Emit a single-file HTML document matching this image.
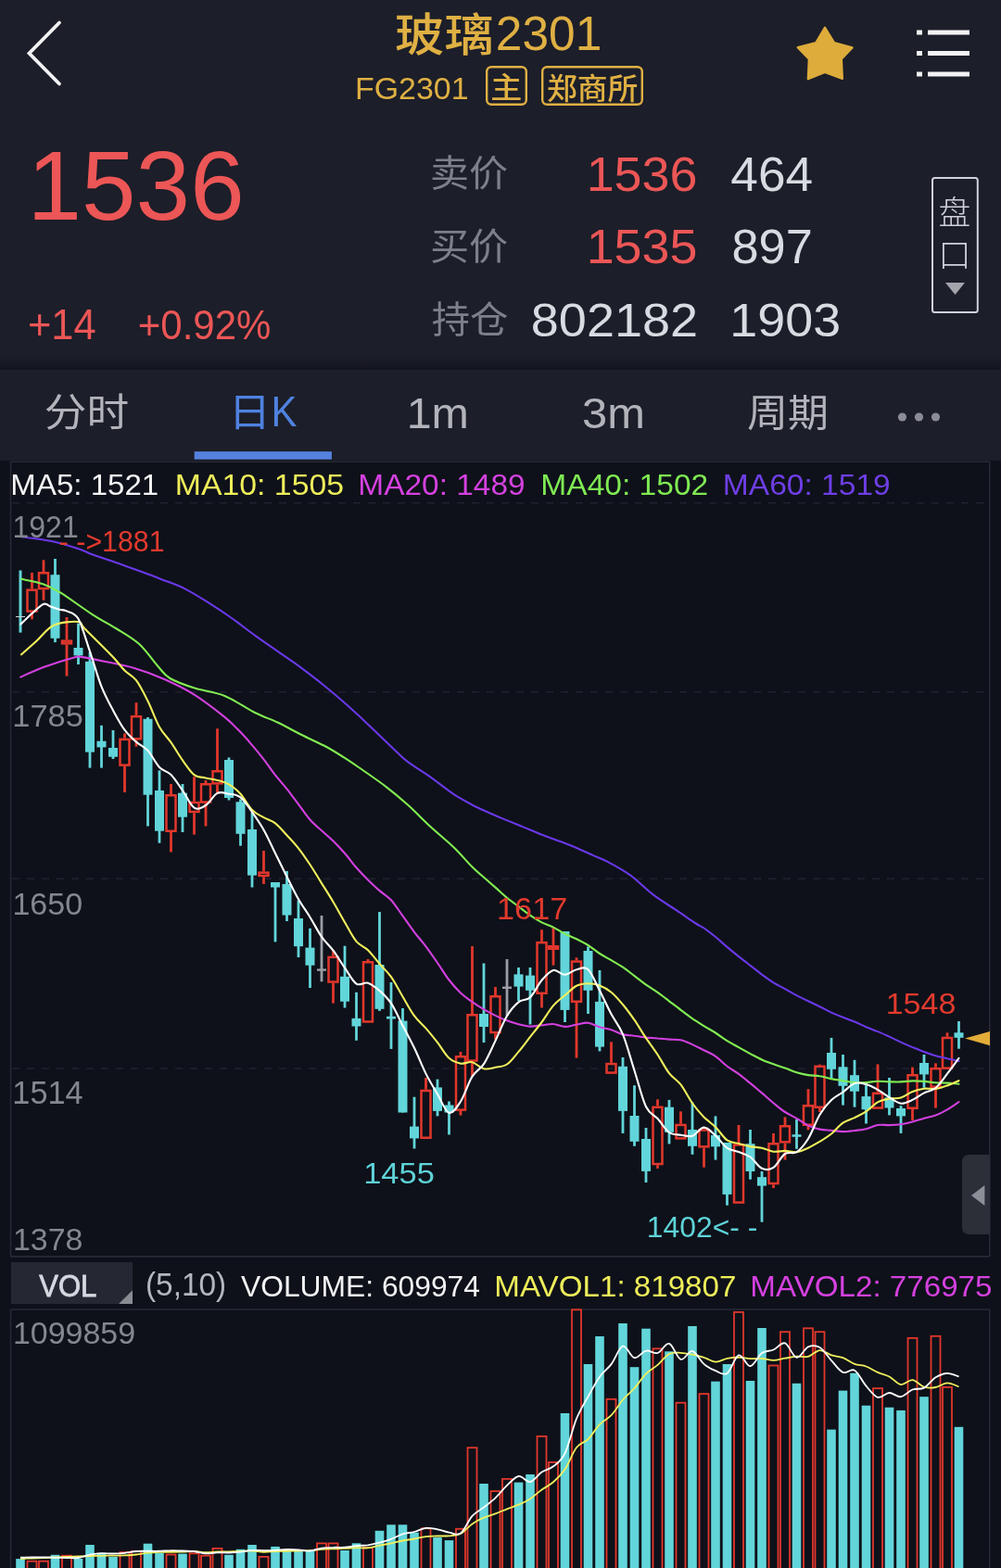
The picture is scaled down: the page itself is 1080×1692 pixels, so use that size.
<!DOCTYPE html>
<html><head><meta charset="utf-8"><title>玻璃2301</title>
<style>html,body{margin:0;padding:0;background:#0e1119;}body{width:1080px;height:1692px;overflow:hidden;}svg{display:block;}</style>
</head><body>
<svg width="1080" height="1692" viewBox="0 0 1080 1692"><rect x="0" y="0" width="1080" height="497" fill="#1c1e29"/>
<defs><linearGradient id="sh" x1="0" y1="0" x2="0" y2="1"><stop offset="0" stop-color="#0c0d14" stop-opacity="0"/><stop offset="1" stop-color="#0c0d14" stop-opacity="0.55"/></linearGradient></defs>
<rect x="0" y="384" width="1080" height="15" fill="url(#sh)"/>
<rect x="0" y="497" width="1080" height="1195" fill="#0e1119"/>
<path d="M11.5,498.3 H1067.8 M11.5,498 V1356 M1067.8,498 V1356 M11.5,1355.9 H1067.8 M11.5,1413 H1067.8 M11.5,1413 V1692 M1067.8,1413 V1692" stroke="#272a35" stroke-width="1.6" fill="none"/>
<line x1="13" y1="542.8" x2="1064" y2="542.8" stroke="#1f2230" stroke-width="1.5" stroke-dasharray="8,8"/>
<line x1="13" y1="746.7" x2="1064" y2="746.7" stroke="#1f2230" stroke-width="1.5" stroke-dasharray="8,8"/>
<line x1="13" y1="948.3" x2="1064" y2="948.3" stroke="#1f2230" stroke-width="1.5" stroke-dasharray="8,8"/>
<line x1="13" y1="1153" x2="1064" y2="1153" stroke="#1f2230" stroke-width="1.5" stroke-dasharray="8,8"/>
<rect x="20.5" y="615.5" width="3" height="67.10000000000002" fill="#62d5da"/>
<rect x="17.0" y="665.0" width="10" height="1" fill="#cfd6da"/>
<rect x="33.1" y="618" width="2.8" height="17.399999999999977" fill="#e2372c"/>
<rect x="33.1" y="660.8" width="2.8" height="7.5" fill="#e2372c"/>
<rect x="29.5" y="636.65" width="10" height="22.899999999999977" fill="none" stroke="#e2372c" stroke-width="2.5"/>
<rect x="45.6" y="604.3" width="2.8" height="12.700000000000045" fill="#e2372c"/>
<rect x="45.6" y="636.3" width="2.8" height="11.5" fill="#e2372c"/>
<rect x="42.0" y="618.25" width="10" height="16.799999999999955" fill="none" stroke="#e2372c" stroke-width="2.5"/>
<rect x="58.1" y="603" width="2.8" height="90.10000000000002" fill="#62d5da"/>
<rect x="54.5" y="620.2" width="10" height="68.59999999999991" fill="#62d5da"/>
<rect x="70.6" y="666" width="2.8" height="24.399999999999977" fill="#e2372c"/>
<rect x="70.6" y="695.6" width="2.8" height="34.0" fill="#e2372c"/>
<rect x="67.0" y="691.65" width="10" height="2.7000000000000455" fill="none" stroke="#e2372c" stroke-width="2.5"/>
<rect x="83.1" y="672.7" width="2.8" height="44.299999999999955" fill="#62d5da"/>
<rect x="79.5" y="699" width="10" height="8.399999999999977" fill="#62d5da"/>
<rect x="95.6" y="703.7" width="2.8" height="124.89999999999998" fill="#62d5da"/>
<rect x="92.0" y="713.8" width="10" height="97.80000000000007" fill="#62d5da"/>
<rect x="108.1" y="782.8" width="2.8" height="45.80000000000007" fill="#62d5da"/>
<rect x="104.5" y="799.7" width="10" height="6.699999999999932" fill="#62d5da"/>
<rect x="120.6" y="788" width="2.8" height="31" fill="#62d5da"/>
<rect x="117.0" y="807" width="10" height="9.700000000000045" fill="#62d5da"/>
<rect x="133.1" y="791.4" width="2.8" height="5.2000000000000455" fill="#e2372c"/>
<rect x="133.1" y="826.9" width="2.8" height="28.100000000000023" fill="#e2372c"/>
<rect x="129.5" y="797.85" width="10" height="27.799999999999955" fill="none" stroke="#e2372c" stroke-width="2.5"/>
<rect x="145.6" y="758.2" width="2.8" height="13.699999999999932" fill="#e2372c"/>
<rect x="145.6" y="798.5" width="2.8" height="7.2000000000000455" fill="#e2372c"/>
<rect x="142.0" y="773.15" width="10" height="24.100000000000023" fill="none" stroke="#e2372c" stroke-width="2.5"/>
<rect x="158.1" y="774" width="2.8" height="117.5" fill="#62d5da"/>
<rect x="154.5" y="775.8" width="10" height="81.90000000000009" fill="#62d5da"/>
<rect x="170.6" y="831.4" width="2.8" height="78.30000000000007" fill="#62d5da"/>
<rect x="167.0" y="853" width="10" height="43.700000000000045" fill="#62d5da"/>
<rect x="183.1" y="846" width="2.8" height="11" fill="#e2372c"/>
<rect x="183.1" y="898" width="2.8" height="21.5" fill="#e2372c"/>
<rect x="179.5" y="858.25" width="10" height="38.5" fill="none" stroke="#e2372c" stroke-width="2.5"/>
<rect x="195.6" y="846" width="2.8" height="52" fill="#62d5da"/>
<rect x="192.0" y="855.7" width="10" height="26.0" fill="#62d5da"/>
<rect x="208.1" y="838.2" width="2.8" height="26.59999999999991" fill="#e2372c"/>
<rect x="208.1" y="877.2" width="2.8" height="23.399999999999977" fill="#e2372c"/>
<rect x="204.5" y="866.05" width="10" height="9.900000000000091" fill="none" stroke="#e2372c" stroke-width="2.5"/>
<rect x="220.6" y="842" width="2.8" height="3" fill="#e2372c"/>
<rect x="220.6" y="866.8" width="2.8" height="24.700000000000045" fill="#e2372c"/>
<rect x="217.0" y="846.25" width="10" height="19.299999999999955" fill="none" stroke="#e2372c" stroke-width="2.5"/>
<rect x="233.1" y="786.2" width="2.8" height="44.799999999999955" fill="#e2372c"/>
<rect x="233.1" y="846.6" width="2.8" height="9.799999999999955" fill="#e2372c"/>
<rect x="229.5" y="832.25" width="10" height="13.100000000000023" fill="none" stroke="#e2372c" stroke-width="2.5"/>
<rect x="245.6" y="817.4" width="2.8" height="46.10000000000002" fill="#62d5da"/>
<rect x="242.0" y="820" width="10" height="41" fill="#62d5da"/>
<rect x="258.1" y="862.4" width="2.8" height="50.30000000000007" fill="#62d5da"/>
<rect x="254.5" y="865.3" width="10" height="34.5" fill="#62d5da"/>
<rect x="270.6" y="877" width="2.8" height="80.5" fill="#62d5da"/>
<rect x="267.0" y="895" width="10" height="49.60000000000002" fill="#62d5da"/>
<rect x="283.1" y="918" width="2.8" height="22.399999999999977" fill="#e2372c"/>
<rect x="283.1" y="946.2" width="2.8" height="7.7999999999999545" fill="#e2372c"/>
<rect x="279.5" y="941.65" width="10" height="3.300000000000068" fill="none" stroke="#e2372c" stroke-width="2.5"/>
<rect x="295.6" y="952" width="2.8" height="64.39999999999998" fill="#62d5da"/>
<rect x="292.0" y="952" width="10" height="5.5" fill="#62d5da"/>
<rect x="308.1" y="940" width="2.8" height="54" fill="#62d5da"/>
<rect x="304.5" y="954" width="10" height="33.5" fill="#62d5da"/>
<rect x="320.6" y="971.5" width="2.8" height="61.5" fill="#62d5da"/>
<rect x="317.0" y="991" width="10" height="30.200000000000045" fill="#62d5da"/>
<rect x="333.1" y="1001.8" width="2.8" height="64.20000000000005" fill="#62d5da"/>
<rect x="329.5" y="1022.6" width="10" height="19.100000000000023" fill="#62d5da"/>
<rect x="345.6" y="988" width="2.8" height="71.29999999999995" fill="#9c9da4"/>
<rect x="342.0" y="1045.3999999999999" width="10" height="2.4" fill="#9c9da4"/>
<rect x="358.1" y="1025" width="2.8" height="6.599999999999909" fill="#e2372c"/>
<rect x="358.1" y="1060.8" width="2.8" height="21.799999999999955" fill="#e2372c"/>
<rect x="354.5" y="1032.85" width="10" height="26.700000000000045" fill="none" stroke="#e2372c" stroke-width="2.5"/>
<rect x="370.6" y="1020.7" width="2.8" height="66.79999999999995" fill="#62d5da"/>
<rect x="367.0" y="1053.8" width="10" height="26.90000000000009" fill="#62d5da"/>
<rect x="383.1" y="1070.8" width="2.8" height="52.0" fill="#62d5da"/>
<rect x="379.5" y="1098.9" width="10" height="8.599999999999909" fill="#62d5da"/>
<rect x="395.6" y="1035" width="2.8" height="2" fill="#e2372c"/>
<rect x="392.0" y="1038.25" width="10" height="64.20000000000005" fill="none" stroke="#e2372c" stroke-width="2.5"/>
<rect x="408.1" y="984" width="2.8" height="106.90000000000009" fill="#62d5da"/>
<rect x="404.5" y="1041" width="10" height="47.799999999999955" fill="#62d5da"/>
<rect x="420.6" y="1060" width="2.8" height="71.90000000000009" fill="#62d5da"/>
<rect x="417.0" y="1096.8" width="10" height="2.7000000000000455" fill="#62d5da"/>
<rect x="433.1" y="1088" width="2.8" height="112.5" fill="#62d5da"/>
<rect x="429.5" y="1101.6" width="10" height="98.90000000000009" fill="#62d5da"/>
<rect x="445.6" y="1183.7" width="2.8" height="55.799999999999955" fill="#62d5da"/>
<rect x="442.0" y="1215.6" width="10" height="12.800000000000182" fill="#62d5da"/>
<rect x="458.1" y="1163" width="2.8" height="12.700000000000045" fill="#e2372c"/>
<rect x="454.5" y="1176.95" width="10" height="50.799999999999955" fill="none" stroke="#e2372c" stroke-width="2.5"/>
<rect x="470.6" y="1164.6" width="2.8" height="39.80000000000018" fill="#62d5da"/>
<rect x="467.0" y="1173.4" width="10" height="25.5" fill="#62d5da"/>
<rect x="483.1" y="1188.5" width="2.8" height="35.90000000000009" fill="#62d5da"/>
<rect x="479.5" y="1192.5" width="10" height="8.0" fill="#62d5da"/>
<rect x="495.6" y="1135" width="2.8" height="4" fill="#e2372c"/>
<rect x="495.6" y="1198.9" width="2.8" height="4.699999999999818" fill="#e2372c"/>
<rect x="492.0" y="1140.25" width="10" height="57.40000000000009" fill="none" stroke="#e2372c" stroke-width="2.5"/>
<rect x="508.1" y="1021" width="2.8" height="73" fill="#e2372c"/>
<rect x="508.1" y="1145.8" width="2.8" height="15.5" fill="#e2372c"/>
<rect x="504.5" y="1095.25" width="10" height="49.299999999999955" fill="none" stroke="#e2372c" stroke-width="2.5"/>
<rect x="520.6" y="1039.5" width="2.8" height="85.5" fill="#62d5da"/>
<rect x="517.0" y="1094" width="10" height="14" fill="#62d5da"/>
<rect x="533.1" y="1065" width="2.8" height="9" fill="#e2372c"/>
<rect x="533.1" y="1115.3" width="2.8" height="6.2000000000000455" fill="#e2372c"/>
<rect x="529.5" y="1075.25" width="10" height="38.799999999999955" fill="none" stroke="#e2372c" stroke-width="2.5"/>
<rect x="545.6" y="1035" width="2.8" height="61" fill="#9c9da4"/>
<rect x="542.0" y="1064.6" width="10" height="2.4" fill="#9c9da4"/>
<rect x="558.1" y="1044" width="2.8" height="36" fill="#62d5da"/>
<rect x="554.5" y="1051.4" width="10" height="13.199999999999818" fill="#62d5da"/>
<rect x="570.6" y="1044" width="2.8" height="61.5" fill="#62d5da"/>
<rect x="567.0" y="1052.6" width="10" height="16.200000000000045" fill="#62d5da"/>
<rect x="583.1" y="1003.2" width="2.8" height="12.699999999999932" fill="#e2372c"/>
<rect x="583.1" y="1073" width="2.8" height="14.5" fill="#e2372c"/>
<rect x="579.5" y="1017.15" width="10" height="54.60000000000002" fill="none" stroke="#e2372c" stroke-width="2.5"/>
<rect x="595.6" y="1000" width="2.8" height="20" fill="#e2372c"/>
<rect x="595.6" y="1025" width="2.8" height="16.700000000000045" fill="#e2372c"/>
<rect x="592.0" y="1021.25" width="10" height="2.5" fill="none" stroke="#e2372c" stroke-width="2.5"/>
<rect x="608.1" y="1005" width="2.8" height="98" fill="#62d5da"/>
<rect x="604.5" y="1005" width="10" height="84.90000000000009" fill="#62d5da"/>
<rect x="620.6" y="1033.3" width="2.8" height="3.0" fill="#e2372c"/>
<rect x="620.6" y="1082" width="2.8" height="59.59999999999991" fill="#e2372c"/>
<rect x="617.0" y="1037.55" width="10" height="43.200000000000045" fill="none" stroke="#e2372c" stroke-width="2.5"/>
<rect x="633.1" y="1021.5" width="2.8" height="72.5" fill="#62d5da"/>
<rect x="629.5" y="1026" width="10" height="42.799999999999955" fill="#62d5da"/>
<rect x="645.6" y="1047" width="2.8" height="87.40000000000009" fill="#62d5da"/>
<rect x="642.0" y="1080.9" width="10" height="48.69999999999982" fill="#62d5da"/>
<rect x="658.1" y="1124.3" width="2.8" height="22.5" fill="#e2372c"/>
<rect x="654.5" y="1148.05" width="10" height="9.5" fill="none" stroke="#e2372c" stroke-width="2.5"/>
<rect x="670.6" y="1141" width="2.8" height="82" fill="#62d5da"/>
<rect x="667.0" y="1150.8" width="10" height="48.100000000000136" fill="#62d5da"/>
<rect x="683.1" y="1171.2" width="2.8" height="65.59999999999991" fill="#62d5da"/>
<rect x="679.5" y="1204" width="10" height="27.799999999999955" fill="#62d5da"/>
<rect x="695.6" y="1217" width="2.8" height="59" fill="#62d5da"/>
<rect x="692.0" y="1229" width="10" height="34.90000000000009" fill="#62d5da"/>
<rect x="708.1" y="1186.3" width="2.8" height="7.2000000000000455" fill="#e2372c"/>
<rect x="708.1" y="1257.3" width="2.8" height="3.6000000000001364" fill="#e2372c"/>
<rect x="704.5" y="1194.75" width="10" height="61.299999999999955" fill="none" stroke="#e2372c" stroke-width="2.5"/>
<rect x="720.6" y="1186.9" width="2.8" height="47.5" fill="#62d5da"/>
<rect x="717.0" y="1194.7" width="10" height="27.09999999999991" fill="#62d5da"/>
<rect x="733.1" y="1199.3" width="2.8" height="13.400000000000091" fill="#e2372c"/>
<rect x="729.5" y="1213.95" width="10" height="14.399999999999864" fill="none" stroke="#e2372c" stroke-width="2.5"/>
<rect x="745.6" y="1189.3" width="2.8" height="56.5" fill="#62d5da"/>
<rect x="742.0" y="1219" width="10" height="17.799999999999955" fill="#62d5da"/>
<rect x="758.1" y="1216.4" width="2.8" height="1.7999999999999545" fill="#e2372c"/>
<rect x="758.1" y="1238.6" width="2.8" height="21.100000000000136" fill="#e2372c"/>
<rect x="754.5" y="1219.45" width="10" height="17.899999999999864" fill="none" stroke="#e2372c" stroke-width="2.5"/>
<rect x="770.6" y="1204.4" width="2.8" height="47.19999999999982" fill="#62d5da"/>
<rect x="767.0" y="1224.9" width="10" height="12.399999999999864" fill="#62d5da"/>
<rect x="783.1" y="1233" width="2.8" height="67.70000000000005" fill="#62d5da"/>
<rect x="779.5" y="1233" width="10" height="55.90000000000009" fill="#62d5da"/>
<rect x="795.6" y="1214" width="2.8" height="20.200000000000045" fill="#e2372c"/>
<rect x="792.0" y="1235.45" width="10" height="62.09999999999991" fill="none" stroke="#e2372c" stroke-width="2.5"/>
<rect x="808.1" y="1219" width="2.8" height="53.700000000000045" fill="#62d5da"/>
<rect x="804.5" y="1234.2" width="10" height="29.799999999999955" fill="#62d5da"/>
<rect x="820.6" y="1264" width="2.8" height="54.700000000000045" fill="#62d5da"/>
<rect x="817.0" y="1270.2" width="10" height="9.399999999999864" fill="#62d5da"/>
<rect x="833.1" y="1223" width="2.8" height="10" fill="#e2372c"/>
<rect x="833.1" y="1278.3" width="2.8" height="3.7000000000000455" fill="#e2372c"/>
<rect x="829.5" y="1234.25" width="10" height="42.799999999999955" fill="none" stroke="#e2372c" stroke-width="2.5"/>
<rect x="845.6" y="1205.4" width="2.8" height="8.599999999999909" fill="#e2372c"/>
<rect x="845.6" y="1233.6" width="2.8" height="18.0" fill="#e2372c"/>
<rect x="842.0" y="1215.25" width="10" height="17.09999999999991" fill="none" stroke="#e2372c" stroke-width="2.5"/>
<rect x="858.1" y="1208" width="2.8" height="31.799999999999955" fill="#62d5da"/>
<rect x="854.5" y="1224.25" width="10" height="2.5" fill="#62d5da"/>
<rect x="870.6" y="1175.2" width="2.8" height="16.799999999999955" fill="#e2372c"/>
<rect x="870.6" y="1215" width="2.8" height="4.2999999999999545" fill="#e2372c"/>
<rect x="867.0" y="1193.25" width="10" height="20.5" fill="none" stroke="#e2372c" stroke-width="2.5"/>
<rect x="883.1" y="1148.5" width="2.8" height="1.0" fill="#e2372c"/>
<rect x="883.1" y="1196" width="2.8" height="4" fill="#e2372c"/>
<rect x="879.5" y="1150.75" width="10" height="44.0" fill="none" stroke="#e2372c" stroke-width="2.5"/>
<rect x="895.6" y="1119.9" width="2.8" height="43.399999999999864" fill="#62d5da"/>
<rect x="892.0" y="1136" width="10" height="17.799999999999955" fill="#62d5da"/>
<rect x="908.1" y="1138" width="2.8" height="54.59999999999991" fill="#62d5da"/>
<rect x="904.5" y="1151.3" width="10" height="20.5" fill="#62d5da"/>
<rect x="920.6" y="1143.8" width="2.8" height="50.90000000000009" fill="#62d5da"/>
<rect x="917.0" y="1160.2" width="10" height="17.5" fill="#62d5da"/>
<rect x="933.1" y="1171.1" width="2.8" height="41.40000000000009" fill="#62d5da"/>
<rect x="929.5" y="1183.1" width="10" height="14.100000000000136" fill="#62d5da"/>
<rect x="945.6" y="1148.4" width="2.8" height="30.199999999999818" fill="#e2372c"/>
<rect x="942.0" y="1179.85" width="10" height="15.700000000000045" fill="none" stroke="#e2372c" stroke-width="2.5"/>
<rect x="958.1" y="1163" width="2.8" height="40.40000000000009" fill="#62d5da"/>
<rect x="954.5" y="1184.2" width="10" height="11.299999999999955" fill="#62d5da"/>
<rect x="970.6" y="1193.2" width="2.8" height="29.700000000000045" fill="#62d5da"/>
<rect x="967.0" y="1196" width="10" height="8.400000000000091" fill="#62d5da"/>
<rect x="983.1" y="1151.6" width="2.8" height="7.400000000000091" fill="#e2372c"/>
<rect x="983.1" y="1197" width="2.8" height="12" fill="#e2372c"/>
<rect x="979.5" y="1160.25" width="10" height="35.5" fill="none" stroke="#e2372c" stroke-width="2.5"/>
<rect x="995.6" y="1138" width="2.8" height="35.799999999999955" fill="#62d5da"/>
<rect x="992.0" y="1147" width="10" height="12.400000000000091" fill="#62d5da"/>
<rect x="1008.1" y="1147.4" width="2.8" height="4.5" fill="#e2372c"/>
<rect x="1008.1" y="1174" width="2.8" height="21.59999999999991" fill="#e2372c"/>
<rect x="1004.5" y="1153.15" width="10" height="19.59999999999991" fill="none" stroke="#e2372c" stroke-width="2.5"/>
<rect x="1020.6" y="1114.3" width="2.8" height="4.400000000000091" fill="#e2372c"/>
<rect x="1017.0" y="1119.95" width="10" height="32.700000000000045" fill="none" stroke="#e2372c" stroke-width="2.5"/>
<rect x="1033.1" y="1102" width="2.8" height="29.700000000000045" fill="#62d5da"/>
<rect x="1029.5" y="1114.3" width="10" height="5.5" fill="#62d5da"/>
<path d="M23.0,579.3 C28.4,580.1 45.4,581.9 55.6,584.0 C65.8,586.1 76.6,589.6 84.0,592.0 C91.4,594.4 93.2,596.0 100.0,598.5 C106.8,601.0 116.7,604.0 125.0,606.9 C133.3,609.8 141.7,613.0 150.0,616.1 C158.3,619.2 166.7,622.1 175.0,625.4 C183.3,628.6 191.7,631.4 200.0,635.6 C208.3,639.8 216.7,645.2 225.0,650.4 C233.3,655.6 241.7,661.1 250.0,667.0 C258.3,672.9 266.7,679.6 275.0,685.6 C283.3,691.6 291.7,697.3 300.0,703.1 C308.3,708.9 316.7,714.5 325.0,720.6 C333.3,726.8 341.7,733.2 350.0,740.0 C358.3,746.8 366.7,753.9 375.0,761.3 C383.3,768.7 391.7,776.5 400.0,784.4 C408.3,792.3 418.3,802.2 425.0,808.5 C431.7,814.8 433.3,817.1 440.0,822.2 C446.7,827.3 456.7,833.0 465.0,838.9 C473.3,844.8 481.7,852.0 490.0,857.4 C498.3,862.8 506.7,867.1 515.0,871.3 C523.3,875.5 531.7,878.8 540.0,882.4 C548.3,886.0 556.7,889.2 565.0,892.6 C573.3,896.0 581.7,899.6 590.0,902.8 C598.3,906.0 606.7,908.6 615.0,912.0 C623.3,915.4 633.3,920.2 640.0,923.1 C646.7,926.0 648.3,926.1 655.0,929.6 C661.7,933.1 671.7,938.4 680.0,944.4 C688.3,950.4 696.7,959.4 705.0,965.7 C713.3,972.0 722.5,977.4 730.0,982.4 C737.5,987.4 745.1,992.8 750.0,996.0 C754.9,999.2 755.8,999.0 759.5,1001.5 C763.2,1004.0 767.8,1007.6 772.0,1011.0 C776.2,1014.4 780.3,1018.4 784.5,1021.9 C788.7,1025.5 792.8,1028.9 797.0,1032.2 C801.2,1035.5 805.3,1038.6 809.5,1041.8 C813.7,1045.0 817.8,1048.5 822.0,1051.6 C826.2,1054.7 830.3,1057.8 834.5,1060.4 C838.7,1063.0 842.8,1064.8 847.0,1067.1 C851.2,1069.4 855.3,1071.9 859.5,1074.1 C863.7,1076.3 867.8,1078.3 872.0,1080.3 C876.2,1082.3 880.3,1084.2 884.5,1086.2 C888.7,1088.2 892.8,1090.6 897.0,1092.6 C901.2,1094.5 905.3,1096.2 909.5,1097.8 C913.7,1099.5 917.8,1100.8 922.0,1102.5 C926.2,1104.2 930.3,1106.4 934.5,1108.2 C938.7,1109.9 942.8,1111.4 947.0,1113.1 C951.2,1114.8 955.3,1116.7 959.5,1118.6 C963.7,1120.5 967.8,1122.7 972.0,1124.6 C976.2,1126.5 980.3,1128.3 984.5,1130.1 C988.7,1131.8 992.8,1133.5 997.0,1135.0 C1001.2,1136.6 1005.3,1138.1 1009.5,1139.2 C1013.7,1140.4 1017.8,1141.2 1022.0,1142.2 C1026.2,1143.1 1032.4,1144.6 1034.5,1145.1" fill="none" stroke="#6a38e8" stroke-width="2.1" stroke-linejoin="round" stroke-linecap="round"/>
<path d="M23.0,624.8 C27.0,625.7 39.9,627.9 47.0,630.4 C54.1,632.9 56.7,634.1 65.5,639.6 C74.3,645.1 90.1,656.9 100.0,663.3 C109.9,669.7 116.7,672.8 125.0,678.0 C133.3,683.2 142.4,688.0 150.0,694.8 C157.6,701.6 164.8,712.8 170.4,719.0 C176.0,725.2 176.9,728.1 183.5,732.0 C190.1,735.9 200.2,739.4 210.0,742.6 C219.8,745.8 231.7,746.6 242.5,751.0 C253.3,755.4 265.4,764.2 275.0,769.0 C284.6,773.8 291.7,775.8 300.0,779.8 C308.3,783.8 316.7,788.6 325.0,792.8 C333.3,797.0 342.4,800.8 350.0,804.8 C357.6,808.8 364.2,813.0 370.4,816.9 C376.6,820.8 379.2,822.6 387.0,828.0 C394.8,833.4 408.2,842.5 417.0,849.3 C425.8,856.0 432.0,861.3 440.0,868.5 C448.0,875.7 456.7,884.9 465.0,892.6 C473.3,900.3 482.6,907.6 490.0,914.8 C497.4,922.0 504.2,930.3 509.5,935.6 C514.8,940.9 517.8,943.0 522.0,946.7 C526.2,950.3 530.3,953.9 534.5,957.6 C538.7,961.3 542.8,965.4 547.0,968.8 C551.2,972.3 555.3,975.1 559.5,978.2 C563.7,981.4 567.8,984.8 572.0,987.7 C576.2,990.6 580.3,993.3 584.5,995.4 C588.7,997.6 592.8,998.6 597.0,1000.6 C601.2,1002.7 605.3,1005.6 609.5,1007.7 C613.7,1009.8 617.8,1011.2 622.0,1013.2 C626.2,1015.3 630.3,1017.4 634.5,1020.0 C638.7,1022.6 642.8,1026.3 647.0,1029.0 C651.2,1031.6 655.3,1033.7 659.5,1036.2 C663.7,1038.6 667.8,1040.9 672.0,1043.7 C676.2,1046.6 680.3,1049.9 684.5,1053.1 C688.7,1056.3 692.8,1059.7 697.0,1062.7 C701.2,1065.6 705.3,1067.9 709.5,1070.9 C713.7,1073.8 717.8,1077.1 722.0,1080.3 C726.2,1083.5 730.3,1086.7 734.5,1089.8 C738.7,1093.0 742.8,1096.3 747.0,1099.2 C751.2,1102.1 755.3,1104.6 759.5,1107.2 C763.7,1109.7 767.8,1111.8 772.0,1114.5 C776.2,1117.2 780.3,1120.6 784.5,1123.2 C788.7,1125.8 792.8,1127.8 797.0,1130.1 C801.2,1132.4 805.3,1134.8 809.5,1137.1 C813.7,1139.3 817.8,1141.6 822.0,1143.5 C826.2,1145.4 830.3,1146.8 834.5,1148.3 C838.7,1149.8 842.8,1151.0 847.0,1152.5 C851.2,1154.0 855.3,1156.1 859.5,1157.3 C863.7,1158.6 867.8,1159.5 872.0,1160.1 C876.2,1160.7 880.3,1160.5 884.5,1161.2 C888.7,1161.8 892.8,1163.2 897.0,1164.1 C901.2,1164.9 905.3,1165.5 909.5,1166.2 C913.7,1166.8 917.8,1167.8 922.0,1168.1 C926.2,1168.4 930.3,1168.2 934.5,1168.0 C938.7,1167.8 942.8,1166.9 947.0,1166.8 C951.2,1166.7 955.3,1167.2 959.5,1167.3 C963.7,1167.4 967.8,1167.6 972.0,1167.4 C976.2,1167.3 980.3,1166.5 984.5,1166.4 C988.7,1166.3 992.8,1166.6 997.0,1166.9 C1001.2,1167.2 1005.3,1168.0 1009.5,1168.3 C1013.7,1168.6 1017.8,1168.4 1022.0,1168.6 C1026.2,1168.8 1032.4,1169.6 1034.5,1169.7" fill="none" stroke="#82ec52" stroke-width="2.1" stroke-linejoin="round" stroke-linecap="round"/>
<path d="M22.2,730.6 C26.4,728.8 37.9,723.2 47.5,719.7 C57.1,716.2 73.4,711.2 80.0,709.4 C86.6,707.6 81.8,708.2 87.2,708.9 C92.6,709.6 102.9,711.7 112.5,713.7 C122.1,715.7 134.2,717.8 145.0,721.0 C155.8,724.2 166.7,728.2 177.5,733.0 C188.3,737.8 199.2,743.0 210.0,749.8 C220.8,756.6 234.2,767.2 242.5,773.9 C250.8,780.6 254.6,785.1 259.5,790.1 C264.4,795.1 267.8,799.2 272.0,804.1 C276.2,808.9 280.3,813.9 284.5,819.3 C288.7,824.7 292.8,831.0 297.0,836.4 C301.2,841.7 305.3,846.0 309.5,851.3 C313.7,856.5 317.8,862.3 322.0,867.8 C326.2,873.4 330.3,879.8 334.5,884.5 C338.7,889.3 342.8,892.5 347.0,896.3 C351.2,900.1 355.3,903.5 359.5,907.5 C363.7,911.6 367.8,916.0 372.0,920.8 C376.2,925.5 380.3,931.5 384.5,936.3 C388.7,941.1 392.8,945.4 397.0,949.5 C401.2,953.7 405.3,957.5 409.5,961.1 C413.7,964.7 417.8,966.7 422.0,971.2 C426.2,975.8 430.3,982.7 434.5,988.4 C438.7,994.2 442.8,1000.3 447.0,1005.8 C451.2,1011.2 455.3,1015.8 459.5,1021.3 C463.7,1026.8 467.8,1033.0 472.0,1039.0 C476.2,1045.0 480.3,1052.1 484.5,1057.5 C488.7,1062.9 492.8,1067.4 497.0,1071.4 C501.2,1075.3 505.3,1078.1 509.5,1081.1 C513.7,1084.1 517.8,1086.8 522.0,1089.2 C526.2,1091.7 530.3,1093.9 534.5,1095.9 C538.7,1097.9 542.8,1099.8 547.0,1101.3 C551.2,1102.9 555.3,1104.2 559.5,1105.2 C563.7,1106.2 567.8,1107.4 572.0,1107.6 C576.2,1107.8 580.3,1106.7 584.5,1106.3 C588.7,1105.9 592.8,1104.7 597.0,1105.0 C601.2,1105.2 605.3,1107.8 609.5,1107.9 C613.7,1108.0 617.8,1106.3 622.0,1105.7 C626.2,1105.0 630.3,1103.3 634.5,1103.7 C638.7,1104.2 642.8,1107.1 647.0,1108.3 C651.2,1109.6 655.3,1109.9 659.5,1111.2 C663.7,1112.6 667.8,1115.1 672.0,1116.2 C676.2,1117.3 680.3,1117.2 684.5,1117.8 C688.7,1118.3 692.8,1119.1 697.0,1119.6 C701.2,1120.0 705.3,1120.1 709.5,1120.5 C713.7,1120.8 717.8,1121.3 722.0,1121.6 C726.2,1121.9 730.3,1121.3 734.5,1122.2 C738.7,1123.1 742.8,1125.2 747.0,1127.1 C751.2,1128.9 755.3,1131.2 759.5,1133.3 C763.7,1135.4 767.8,1136.9 772.0,1139.8 C776.2,1142.6 780.3,1147.3 784.5,1150.5 C788.7,1153.7 792.8,1155.9 797.0,1158.9 C801.2,1162.0 805.3,1165.5 809.5,1168.9 C813.7,1172.3 817.8,1175.9 822.0,1179.4 C826.2,1183.0 830.3,1186.9 834.5,1190.3 C838.7,1193.7 842.8,1197.3 847.0,1200.0 C851.2,1202.7 855.3,1204.4 859.5,1206.8 C863.7,1209.2 867.8,1212.6 872.0,1214.6 C876.2,1216.5 880.3,1217.7 884.5,1218.6 C888.7,1219.5 892.8,1219.4 897.0,1219.8 C901.2,1220.2 905.3,1221.0 909.5,1221.1 C913.7,1221.1 917.8,1220.5 922.0,1220.0 C926.2,1219.5 930.3,1219.3 934.5,1218.3 C938.7,1217.3 942.8,1214.7 947.0,1214.0 C951.2,1213.3 955.3,1214.2 959.5,1214.1 C963.7,1214.0 967.8,1213.8 972.0,1213.2 C976.2,1212.6 980.3,1211.6 984.5,1210.5 C988.7,1209.5 992.8,1207.9 997.0,1206.7 C1001.2,1205.5 1005.3,1204.9 1009.5,1203.4 C1013.7,1201.8 1017.8,1199.8 1022.0,1197.4 C1026.2,1195.0 1032.4,1190.4 1034.5,1189.0" fill="none" stroke="#d240df" stroke-width="2.1" stroke-linejoin="round" stroke-linecap="round"/>
<path d="M23.0,706.3 C25.8,703.8 33.8,696.8 39.6,691.5 C45.4,686.2 50.6,678.2 58.0,674.8 C65.4,671.4 78.4,670.4 84.0,671.0 C89.6,671.6 85.3,672.3 91.5,678.5 C97.7,684.7 113.8,700.5 121.0,708.0 C128.2,715.5 130.2,719.2 134.5,723.6 C138.8,728.0 142.8,728.7 147.0,734.2 C151.2,739.7 155.3,748.1 159.5,756.5 C163.7,764.8 167.8,777.0 172.0,784.4 C176.2,791.9 180.3,795.2 184.5,801.2 C188.7,807.2 192.8,814.6 197.0,820.4 C201.2,826.2 205.3,832.9 209.5,836.1 C213.7,839.3 217.8,838.5 222.0,839.5 C226.2,840.4 230.3,840.8 234.5,841.9 C238.7,843.1 242.8,843.9 247.0,846.3 C251.2,848.8 255.3,852.1 259.5,856.7 C263.7,861.3 267.8,869.7 272.0,873.9 C276.2,878.2 280.3,879.8 284.5,882.2 C288.7,884.6 292.8,885.1 297.0,888.3 C301.2,891.5 305.3,896.8 309.5,901.3 C313.7,905.8 317.8,910.0 322.0,915.3 C326.2,920.6 330.3,926.7 334.5,933.0 C338.7,939.3 342.8,946.4 347.0,953.1 C351.2,959.8 355.3,966.2 359.5,973.2 C363.7,980.2 367.8,988.0 372.0,995.2 C376.2,1002.3 380.3,1010.9 384.5,1015.9 C388.7,1020.9 392.8,1021.2 397.0,1025.2 C401.2,1029.2 405.3,1035.2 409.5,1040.0 C413.7,1044.8 417.8,1048.3 422.0,1054.2 C426.2,1060.1 430.3,1068.5 434.5,1075.5 C438.7,1082.5 442.8,1090.5 447.0,1096.2 C451.2,1101.9 455.3,1104.9 459.5,1109.6 C463.7,1114.4 467.8,1119.5 472.0,1124.9 C476.2,1130.2 480.3,1138.0 484.5,1141.8 C488.7,1145.5 492.8,1146.8 497.0,1147.6 C501.2,1148.3 505.3,1145.3 509.5,1146.2 C513.7,1147.2 517.8,1152.4 522.0,1153.3 C526.2,1154.3 530.3,1152.7 534.5,1151.8 C538.7,1151.0 542.8,1151.3 547.0,1148.5 C551.2,1145.7 555.3,1139.8 559.5,1134.9 C563.7,1130.0 567.8,1124.3 572.0,1118.9 C576.2,1113.6 580.3,1108.6 584.5,1103.0 C588.7,1097.3 592.8,1089.9 597.0,1085.1 C601.2,1080.2 605.3,1077.6 609.5,1074.0 C613.7,1070.4 617.8,1065.9 622.0,1063.7 C626.2,1061.6 630.3,1061.3 634.5,1061.2 C638.7,1061.2 642.8,1061.8 647.0,1063.4 C651.2,1064.9 655.3,1067.2 659.5,1070.7 C663.7,1074.1 667.8,1079.0 672.0,1084.0 C676.2,1089.0 680.3,1094.6 684.5,1100.7 C688.7,1106.7 692.8,1114.0 697.0,1120.2 C701.2,1126.4 705.3,1131.6 709.5,1138.0 C713.7,1144.3 717.8,1152.7 722.0,1158.1 C726.2,1163.5 730.3,1165.0 734.5,1170.4 C738.7,1175.8 742.8,1184.6 747.0,1190.5 C751.2,1196.3 755.3,1201.1 759.5,1205.4 C763.7,1209.7 767.8,1212.0 772.0,1216.2 C776.2,1220.3 780.3,1227.4 784.5,1230.4 C788.7,1233.3 792.8,1232.8 797.0,1233.9 C801.2,1235.0 805.3,1236.3 809.5,1237.1 C813.7,1237.9 817.8,1237.8 822.0,1238.7 C826.2,1239.6 830.3,1242.1 834.5,1242.7 C838.7,1243.2 842.8,1241.8 847.0,1241.9 C851.2,1242.0 855.3,1243.7 859.5,1243.2 C863.7,1242.6 867.8,1240.6 872.0,1238.7 C876.2,1236.8 880.3,1234.3 884.5,1231.8 C888.7,1229.3 892.8,1226.8 897.0,1223.5 C901.2,1220.1 905.3,1214.6 909.5,1211.7 C913.7,1208.8 917.8,1208.1 922.0,1206.1 C926.2,1204.0 930.3,1202.2 934.5,1199.4 C938.7,1196.6 942.8,1191.6 947.0,1189.3 C951.2,1187.0 955.3,1186.3 959.5,1185.6 C963.7,1184.8 967.8,1185.9 972.0,1184.6 C976.2,1183.3 980.3,1179.6 984.5,1178.0 C988.7,1176.3 992.8,1175.2 997.0,1174.7 C1001.2,1174.2 1005.3,1175.5 1009.5,1174.9 C1013.7,1174.4 1017.8,1172.9 1022.0,1171.4 C1026.2,1170.0 1032.4,1167.1 1034.5,1166.2" fill="none" stroke="#f0f05c" stroke-width="2.1" stroke-linejoin="round" stroke-linecap="round"/>
<path d="M22.4,673.6 C24.4,671.7 30.4,665.6 34.5,662.0 C38.6,658.4 43.9,653.0 47.3,651.8 C50.7,650.6 51.9,653.6 54.7,654.6 C57.5,655.6 61.1,656.9 64.0,657.7 C66.9,658.5 68.6,657.7 72.0,659.4 C75.4,661.1 80.3,660.5 84.5,667.8 C88.7,675.1 92.8,690.9 97.0,703.0 C101.2,715.2 105.3,730.3 109.5,740.9 C113.7,751.5 117.8,758.7 122.0,766.5 C126.2,774.3 130.3,782.0 134.5,787.7 C138.7,793.4 142.8,797.0 147.0,800.6 C151.2,804.3 155.3,805.3 159.5,809.9 C163.7,814.4 167.8,823.6 172.0,827.9 C176.2,832.3 180.3,831.8 184.5,836.0 C188.7,840.2 192.8,847.1 197.0,853.0 C201.2,858.9 205.3,868.9 209.5,871.6 C213.7,874.3 217.8,871.7 222.0,869.0 C226.2,866.4 230.3,858.0 234.5,855.9 C238.7,853.8 242.8,856.0 247.0,856.7 C251.2,857.4 255.3,857.1 259.5,860.3 C263.7,863.6 267.8,870.4 272.0,876.3 C276.2,882.1 280.3,888.0 284.5,895.4 C288.7,902.8 292.8,912.2 297.0,920.7 C301.2,929.1 305.3,937.7 309.5,946.0 C313.7,954.2 317.8,963.0 322.0,970.2 C326.2,977.5 330.3,982.9 334.5,989.7 C338.7,996.4 342.8,1004.9 347.0,1010.9 C351.2,1016.9 355.3,1020.1 359.5,1025.7 C363.7,1031.3 367.8,1038.4 372.0,1044.4 C376.2,1050.3 380.3,1058.9 384.5,1061.6 C388.7,1064.3 392.8,1059.4 397.0,1060.7 C401.2,1061.9 405.3,1065.5 409.5,1069.1 C413.7,1072.8 417.8,1076.4 422.0,1082.7 C426.2,1089.0 430.3,1098.6 434.5,1106.7 C438.7,1114.7 442.8,1122.2 447.0,1130.8 C451.2,1139.5 455.3,1150.3 459.5,1158.6 C463.7,1166.9 467.8,1173.6 472.0,1180.6 C476.2,1187.6 480.3,1199.5 484.5,1200.8 C488.7,1202.1 492.8,1195.0 497.0,1188.5 C501.2,1182.0 505.3,1168.4 509.5,1161.6 C513.7,1154.9 517.8,1154.5 522.0,1148.1 C526.2,1141.7 530.3,1131.8 534.5,1123.1 C538.7,1114.4 542.8,1103.1 547.0,1096.2 C551.2,1089.2 555.3,1084.6 559.5,1081.3 C563.7,1078.0 567.8,1080.2 572.0,1076.2 C576.2,1072.3 580.3,1062.7 584.5,1057.8 C588.7,1053.0 592.8,1048.0 597.0,1047.0 C601.2,1046.0 605.3,1052.0 609.5,1051.8 C613.7,1051.7 617.8,1047.1 622.0,1046.2 C626.2,1045.2 630.3,1042.4 634.5,1046.2 C638.7,1050.0 642.8,1060.9 647.0,1068.9 C651.2,1076.9 655.3,1086.4 659.5,1094.3 C663.7,1102.1 667.8,1105.9 672.0,1116.1 C676.2,1126.2 680.3,1142.2 684.5,1155.2 C688.7,1168.2 692.8,1185.6 697.0,1194.2 C701.2,1202.8 705.3,1202.3 709.5,1207.0 C713.7,1211.6 717.8,1219.0 722.0,1222.0 C726.2,1224.9 730.3,1224.1 734.5,1224.7 C738.7,1225.4 742.8,1227.1 747.0,1225.7 C751.2,1224.4 755.3,1216.7 759.5,1216.6 C763.7,1216.5 767.8,1221.7 772.0,1225.4 C776.2,1229.1 780.3,1235.8 784.5,1238.8 C788.7,1241.7 792.8,1241.5 797.0,1243.1 C801.2,1244.7 805.3,1245.6 809.5,1248.5 C813.7,1251.5 817.8,1258.9 822.0,1260.8 C826.2,1262.7 830.3,1262.6 834.5,1259.9 C838.7,1257.3 842.8,1247.7 847.0,1245.0 C851.2,1242.2 855.3,1245.9 859.5,1243.2 C863.7,1240.5 867.8,1235.6 872.0,1228.8 C876.2,1222.1 880.3,1209.8 884.5,1202.8 C888.7,1195.8 892.8,1191.0 897.0,1187.0 C901.2,1182.9 905.3,1181.5 909.5,1178.5 C913.7,1175.5 917.8,1170.4 922.0,1169.0 C926.2,1167.5 930.3,1168.9 934.5,1170.0 C938.7,1171.1 942.8,1173.5 947.0,1175.8 C951.2,1178.2 955.3,1181.7 959.5,1184.2 C963.7,1186.6 967.8,1190.2 972.0,1190.7 C976.2,1191.1 980.3,1188.8 984.5,1186.9 C988.7,1185.1 992.8,1181.5 997.0,1179.4 C1001.2,1177.2 1005.3,1177.5 1009.5,1174.0 C1013.7,1170.6 1017.8,1164.1 1022.0,1158.7 C1026.2,1153.3 1032.4,1144.6 1034.5,1141.8" fill="none" stroke="#ffffff" stroke-width="2.1" stroke-linejoin="round" stroke-linecap="round"/>
<path d="M1041,1120.6 L1068,1113 L1068,1128.2 Z" fill="#e3ac39"/>
<path d="M1068,1246 H1046 Q1038,1246 1038,1254 V1324 Q1038,1332 1046,1332 H1068 Z" fill="#2c2f38"/>
<path d="M1048,1290 L1062.4,1279 L1062.4,1301 Z" fill="#8c8e98"/>
<rect x="11.9" y="1362" width="131.1" height="45" fill="#252833"/>
<path d="M128.1,1407 L143,1407 L143,1392.2 Z" fill="#8a8c94"/>
<rect x="17.2" y="1682.1" width="9.6" height="17.90000000000009" fill="#62d5da"/>
<rect x="29.5" y="1684.7" width="10" height="16.200000000000045" fill="none" stroke="#e2372c" stroke-width="1.8"/>
<rect x="42.0" y="1684.7" width="10" height="16.200000000000045" fill="none" stroke="#e2372c" stroke-width="1.8"/>
<rect x="54.7" y="1677.8" width="9.6" height="22.200000000000045" fill="#62d5da"/>
<rect x="67.0" y="1678.7" width="10" height="22.200000000000045" fill="none" stroke="#e2372c" stroke-width="1.8"/>
<rect x="79.7" y="1682" width="9.6" height="18" fill="#62d5da"/>
<rect x="92.2" y="1667" width="9.6" height="33" fill="#62d5da"/>
<rect x="104.7" y="1675.8" width="9.6" height="24.200000000000045" fill="#62d5da"/>
<rect x="117.2" y="1680" width="9.6" height="20" fill="#62d5da"/>
<rect x="129.5" y="1675.1000000000001" width="10" height="25.799999999999955" fill="none" stroke="#e2372c" stroke-width="1.8"/>
<rect x="142.0" y="1673.9" width="10" height="27" fill="none" stroke="#e2372c" stroke-width="1.8"/>
<rect x="154.7" y="1665.7" width="9.6" height="34.299999999999955" fill="#62d5da"/>
<rect x="167.2" y="1675.8" width="9.6" height="24.200000000000045" fill="#62d5da"/>
<rect x="179.5" y="1677.5" width="10" height="23.40000000000009" fill="none" stroke="#e2372c" stroke-width="1.8"/>
<rect x="192.2" y="1676.6" width="9.6" height="23.40000000000009" fill="#62d5da"/>
<rect x="204.5" y="1676.3000000000002" width="10" height="24.59999999999991" fill="none" stroke="#e2372c" stroke-width="1.8"/>
<rect x="217.0" y="1678.7" width="10" height="22.200000000000045" fill="none" stroke="#e2372c" stroke-width="1.8"/>
<rect x="229.5" y="1670.9" width="10" height="30" fill="none" stroke="#e2372c" stroke-width="1.8"/>
<rect x="242.2" y="1677.8" width="9.6" height="22.200000000000045" fill="#62d5da"/>
<rect x="254.7" y="1671.8" width="9.6" height="28.200000000000045" fill="#62d5da"/>
<rect x="267.2" y="1667" width="9.6" height="33" fill="#62d5da"/>
<rect x="279.5" y="1679.9" width="10" height="21" fill="none" stroke="#e2372c" stroke-width="1.8"/>
<rect x="292.2" y="1668.9" width="9.6" height="31.09999999999991" fill="#62d5da"/>
<rect x="304.7" y="1673.4" width="9.6" height="26.59999999999991" fill="#62d5da"/>
<rect x="317.2" y="1673.4" width="9.6" height="26.59999999999991" fill="#62d5da"/>
<rect x="329.7" y="1673" width="9.6" height="27" fill="#62d5da"/>
<rect x="342.0" y="1665.4" width="10" height="35.5" fill="none" stroke="#e2372c" stroke-width="1.8"/>
<rect x="354.5" y="1665.4" width="10" height="35.5" fill="none" stroke="#e2372c" stroke-width="1.8"/>
<rect x="367.2" y="1673" width="9.6" height="27" fill="#62d5da"/>
<rect x="379.7" y="1665.3" width="9.6" height="34.700000000000045" fill="#62d5da"/>
<rect x="392.0" y="1669.9" width="10" height="31" fill="none" stroke="#e2372c" stroke-width="1.8"/>
<rect x="404.7" y="1651.8" width="9.6" height="48.200000000000045" fill="#62d5da"/>
<rect x="417.2" y="1645.3" width="9.6" height="54.700000000000045" fill="#62d5da"/>
<rect x="429.7" y="1645.3" width="9.6" height="54.700000000000045" fill="#62d5da"/>
<rect x="442.2" y="1653.7" width="9.6" height="46.299999999999955" fill="#62d5da"/>
<rect x="454.5" y="1649.3000000000002" width="10" height="51.59999999999991" fill="none" stroke="#e2372c" stroke-width="1.8"/>
<rect x="467.2" y="1659" width="9.6" height="41" fill="#62d5da"/>
<rect x="479.7" y="1662.1" width="9.6" height="37.90000000000009" fill="#62d5da"/>
<rect x="492.0" y="1649.8000000000002" width="10" height="51.09999999999991" fill="none" stroke="#e2372c" stroke-width="1.8"/>
<rect x="504.5" y="1562.2" width="10" height="138.70000000000005" fill="none" stroke="#e2372c" stroke-width="1.8"/>
<rect x="517.2" y="1601" width="9.6" height="99" fill="#62d5da"/>
<rect x="529.5" y="1609.1000000000001" width="10" height="91.79999999999995" fill="none" stroke="#e2372c" stroke-width="1.8"/>
<rect x="542.0" y="1595.9" width="10" height="105" fill="none" stroke="#e2372c" stroke-width="1.8"/>
<rect x="554.7" y="1599.6" width="9.6" height="100.40000000000009" fill="#62d5da"/>
<rect x="567.2" y="1591" width="9.6" height="109" fill="#62d5da"/>
<rect x="579.5" y="1549.9" width="10" height="151" fill="none" stroke="#e2372c" stroke-width="1.8"/>
<rect x="592.0" y="1577.9" width="10" height="123" fill="none" stroke="#e2372c" stroke-width="1.8"/>
<rect x="604.7" y="1525" width="9.6" height="175" fill="#62d5da"/>
<rect x="617.0" y="1413.3000000000002" width="10" height="287.5999999999999" fill="none" stroke="#e2372c" stroke-width="1.8"/>
<rect x="629.7" y="1472" width="9.6" height="228" fill="#62d5da"/>
<rect x="642.2" y="1442" width="9.6" height="258" fill="#62d5da"/>
<rect x="654.5" y="1509.8000000000002" width="10" height="191.0999999999999" fill="none" stroke="#e2372c" stroke-width="1.8"/>
<rect x="667.2" y="1428" width="9.6" height="272" fill="#62d5da"/>
<rect x="679.7" y="1475.2" width="9.6" height="224.79999999999995" fill="#62d5da"/>
<rect x="692.2" y="1433.7" width="9.6" height="266.29999999999995" fill="#62d5da"/>
<rect x="704.5" y="1455.3000000000002" width="10" height="245.5999999999999" fill="none" stroke="#e2372c" stroke-width="1.8"/>
<rect x="717.2" y="1458.3" width="9.6" height="241.70000000000005" fill="#62d5da"/>
<rect x="729.5" y="1513.7" width="10" height="187.20000000000005" fill="none" stroke="#e2372c" stroke-width="1.8"/>
<rect x="742.2" y="1431" width="9.6" height="269" fill="#62d5da"/>
<rect x="754.5" y="1504.1000000000001" width="10" height="196.79999999999995" fill="none" stroke="#e2372c" stroke-width="1.8"/>
<rect x="767.2" y="1490.7" width="9.6" height="209.29999999999995" fill="#62d5da"/>
<rect x="779.7" y="1472" width="9.6" height="228" fill="#62d5da"/>
<rect x="792.0" y="1415.9" width="10" height="285" fill="none" stroke="#e2372c" stroke-width="1.8"/>
<rect x="804.7" y="1490" width="9.6" height="210" fill="#62d5da"/>
<rect x="817.2" y="1433" width="9.6" height="267" fill="#62d5da"/>
<rect x="829.5" y="1473.5" width="10" height="227.4000000000001" fill="none" stroke="#e2372c" stroke-width="1.8"/>
<rect x="842.0" y="1437.2" width="10" height="263.70000000000005" fill="none" stroke="#e2372c" stroke-width="1.8"/>
<rect x="854.7" y="1492.8" width="9.6" height="207.20000000000005" fill="#62d5da"/>
<rect x="867.0" y="1433.3000000000002" width="10" height="267.5999999999999" fill="none" stroke="#e2372c" stroke-width="1.8"/>
<rect x="879.5" y="1437.2" width="10" height="263.70000000000005" fill="none" stroke="#e2372c" stroke-width="1.8"/>
<rect x="892.2" y="1542.6" width="9.6" height="157.4000000000001" fill="#62d5da"/>
<rect x="904.7" y="1500.6" width="9.6" height="199.4000000000001" fill="#62d5da"/>
<rect x="917.2" y="1481.7" width="9.6" height="218.29999999999995" fill="#62d5da"/>
<rect x="929.7" y="1516.7" width="9.6" height="183.29999999999995" fill="#62d5da"/>
<rect x="942.0" y="1498.1000000000001" width="10" height="202.79999999999995" fill="none" stroke="#e2372c" stroke-width="1.8"/>
<rect x="954.7" y="1518.7" width="9.6" height="181.29999999999995" fill="#62d5da"/>
<rect x="967.2" y="1521.9" width="9.6" height="178.0999999999999" fill="#62d5da"/>
<rect x="979.5" y="1443.9" width="10" height="257" fill="none" stroke="#e2372c" stroke-width="1.8"/>
<rect x="992.2" y="1507.2" width="9.6" height="192.79999999999995" fill="#62d5da"/>
<rect x="1004.5" y="1441.8000000000002" width="10" height="259.0999999999999" fill="none" stroke="#e2372c" stroke-width="1.8"/>
<rect x="1017.0" y="1496.9" width="10" height="204" fill="none" stroke="#e2372c" stroke-width="1.8"/>
<rect x="1029.7" y="1539.8" width="9.6" height="160.20000000000005" fill="#62d5da"/>
<path d="M22.0,1682.0 C24.1,1681.9 30.3,1681.7 34.5,1681.5 C38.7,1681.3 42.8,1681.2 47.0,1681.0 C51.2,1680.8 55.3,1680.7 59.5,1680.5 C63.7,1680.3 67.8,1680.2 72.0,1680.0 C76.2,1679.8 80.3,1679.7 84.5,1679.5 C88.7,1679.3 92.8,1679.1 97.0,1679.0 C101.2,1678.9 105.3,1678.9 109.5,1678.8 C113.7,1678.7 117.8,1678.7 122.0,1678.6 C126.2,1678.5 130.3,1678.6 134.5,1678.4 C138.7,1678.2 142.8,1678.0 147.0,1677.5 C151.2,1677.1 155.3,1676.1 159.5,1675.7 C163.7,1675.3 167.8,1675.1 172.0,1674.9 C176.2,1674.8 180.3,1674.8 184.5,1674.8 C188.7,1674.8 192.8,1674.8 197.0,1674.7 C201.2,1674.5 205.3,1673.9 209.5,1674.0 C213.7,1674.1 217.8,1675.0 222.0,1675.1 C226.2,1675.2 230.3,1674.6 234.5,1674.5 C238.7,1674.4 242.8,1674.4 247.0,1674.3 C251.2,1674.2 255.3,1674.2 259.5,1674.0 C263.7,1673.9 267.8,1673.3 272.0,1673.5 C276.2,1673.6 280.3,1674.7 284.5,1674.8 C288.7,1674.9 292.8,1674.3 297.0,1674.1 C301.2,1673.9 305.3,1673.9 309.5,1673.8 C313.7,1673.7 317.8,1673.5 322.0,1673.5 C326.2,1673.4 330.3,1673.5 334.5,1673.2 C338.7,1672.9 342.8,1672.2 347.0,1671.9 C351.2,1671.6 355.3,1671.5 359.5,1671.3 C363.7,1671.2 367.8,1671.0 372.0,1670.8 C376.2,1670.7 380.3,1670.3 384.5,1670.2 C388.7,1670.1 392.8,1670.8 397.0,1670.4 C401.2,1670.0 405.3,1668.5 409.5,1667.7 C413.7,1666.8 417.8,1666.2 422.0,1665.3 C426.2,1664.5 430.3,1663.3 434.5,1662.5 C438.7,1661.7 442.8,1661.3 447.0,1660.5 C451.2,1659.8 455.3,1658.6 459.5,1658.1 C463.7,1657.6 467.8,1657.7 472.0,1657.5 C476.2,1657.4 480.3,1657.7 484.5,1657.3 C488.7,1656.8 492.8,1657.0 497.0,1654.9 C501.2,1652.7 505.3,1647.3 509.5,1644.5 C513.7,1641.6 517.8,1639.5 522.0,1637.7 C526.2,1635.8 530.3,1634.9 534.5,1633.3 C538.7,1631.8 542.8,1629.9 547.0,1628.3 C551.2,1626.7 555.3,1625.5 559.5,1623.7 C563.7,1621.9 567.8,1620.2 572.0,1617.5 C576.2,1614.7 580.3,1610.5 584.5,1607.5 C588.7,1604.5 592.8,1603.0 597.0,1599.3 C601.2,1595.7 605.3,1591.8 609.5,1585.6 C613.7,1579.4 617.8,1567.4 622.0,1562.0 C626.2,1556.5 630.3,1557.2 634.5,1553.0 C638.7,1548.9 642.8,1541.4 647.0,1537.1 C651.2,1532.8 655.3,1531.6 659.5,1527.2 C663.7,1522.8 667.8,1515.3 672.0,1510.5 C676.2,1505.6 680.3,1502.7 684.5,1498.0 C688.7,1493.4 692.8,1486.5 697.0,1482.3 C701.2,1478.1 705.3,1476.4 709.5,1472.9 C713.7,1469.3 717.8,1463.2 722.0,1461.0 C726.2,1458.8 730.3,1459.7 734.5,1459.8 C738.7,1459.9 742.8,1460.8 747.0,1461.6 C751.2,1462.5 755.3,1463.4 759.5,1464.8 C763.7,1466.1 767.8,1469.4 772.0,1469.6 C776.2,1469.8 780.3,1466.8 784.5,1465.9 C788.7,1465.1 792.8,1464.6 797.0,1464.6 C801.2,1464.7 805.3,1465.9 809.5,1466.1 C813.7,1466.3 817.8,1465.7 822.0,1466.0 C826.2,1466.3 830.3,1467.9 834.5,1467.9 C838.7,1467.8 842.8,1466.4 847.0,1465.7 C851.2,1465.0 855.3,1464.0 859.5,1463.7 C863.7,1463.4 867.8,1464.9 872.0,1463.8 C876.2,1462.7 880.3,1457.4 884.5,1457.1 C888.7,1456.9 892.8,1461.0 897.0,1462.3 C901.2,1463.6 905.3,1463.6 909.5,1465.2 C913.7,1466.7 917.8,1470.3 922.0,1471.8 C926.2,1473.4 930.3,1473.0 934.5,1474.5 C938.7,1476.0 942.8,1479.1 947.0,1480.9 C951.2,1482.8 955.3,1483.3 959.5,1485.5 C963.7,1487.7 967.8,1493.5 972.0,1494.1 C976.2,1494.7 980.3,1488.7 984.5,1489.1 C988.7,1489.5 992.8,1495.3 997.0,1496.6 C1001.2,1497.9 1005.3,1497.8 1009.5,1497.0 C1013.7,1496.3 1017.8,1492.5 1022.0,1492.4 C1026.2,1492.3 1032.4,1495.7 1034.5,1496.3" fill="none" stroke="#f0f05c" stroke-width="1.8"/>
<path d="M22.0,1680.7 C24.1,1680.7 30.3,1680.5 34.5,1680.5 C38.7,1680.5 42.8,1680.5 47.0,1680.5 C51.2,1680.5 55.3,1680.7 59.5,1680.8 C63.7,1680.9 67.8,1681.0 72.0,1681.1 C76.2,1681.1 80.3,1681.6 84.5,1681.0 C88.7,1680.5 92.8,1678.5 97.0,1677.7 C101.2,1676.9 105.3,1676.3 109.5,1676.1 C113.7,1675.9 117.8,1676.6 122.0,1676.5 C126.2,1676.5 130.3,1676.2 134.5,1675.8 C138.7,1675.4 142.8,1674.3 147.0,1674.0 C151.2,1673.7 155.3,1673.8 159.5,1673.7 C163.7,1673.7 167.8,1673.9 172.0,1673.7 C176.2,1673.6 180.3,1673.1 184.5,1673.1 C188.7,1673.0 192.8,1673.4 197.0,1673.5 C201.2,1673.7 205.3,1673.5 209.5,1674.0 C213.7,1674.5 217.8,1676.2 222.0,1676.4 C226.2,1676.7 230.3,1675.4 234.5,1675.3 C238.7,1675.1 242.8,1675.6 247.0,1675.5 C251.2,1675.4 255.3,1675.0 259.5,1674.6 C263.7,1674.1 267.8,1673.1 272.0,1672.9 C276.2,1672.6 280.3,1673.1 284.5,1673.1 C288.7,1673.1 292.8,1673.1 297.0,1672.9 C301.2,1672.7 305.3,1672.1 309.5,1672.0 C313.7,1671.9 317.8,1672.1 322.0,1672.3 C326.2,1672.6 330.3,1673.8 334.5,1673.5 C338.7,1673.3 342.8,1671.3 347.0,1670.6 C351.2,1670.0 355.3,1669.9 359.5,1669.8 C363.7,1669.6 367.8,1670.0 372.0,1669.7 C376.2,1669.4 380.3,1668.5 384.5,1668.1 C388.7,1667.7 392.8,1667.8 397.0,1667.3 C401.2,1666.7 405.3,1665.8 409.5,1664.7 C413.7,1663.7 417.8,1662.4 422.0,1660.9 C426.2,1659.3 430.3,1656.7 434.5,1655.3 C438.7,1654.0 442.8,1654.1 447.0,1653.0 C451.2,1651.9 455.3,1649.3 459.5,1648.9 C463.7,1648.5 467.8,1649.5 472.0,1650.3 C476.2,1651.1 480.3,1653.0 484.5,1653.7 C488.7,1654.4 492.8,1657.4 497.0,1654.4 C501.2,1651.5 505.3,1640.6 509.5,1635.9 C513.7,1631.3 517.8,1629.7 522.0,1626.5 C526.2,1623.2 530.3,1620.2 534.5,1616.3 C538.7,1612.4 542.8,1606.8 547.0,1602.9 C551.2,1599.0 555.3,1593.7 559.5,1593.0 C563.7,1592.4 567.8,1599.7 572.0,1599.0 C576.2,1598.2 580.3,1591.3 584.5,1588.6 C588.7,1585.8 592.8,1585.7 597.0,1582.3 C601.2,1578.9 605.3,1576.9 609.5,1568.3 C613.7,1559.7 617.8,1541.1 622.0,1530.9 C626.2,1520.7 630.3,1514.6 634.5,1507.1 C638.7,1499.5 642.8,1491.5 647.0,1485.7 C651.2,1479.8 655.3,1477.6 659.5,1472.1 C663.7,1466.6 667.8,1453.8 672.0,1452.7 C676.2,1451.5 680.3,1464.4 684.5,1465.2 C688.7,1466.0 692.8,1458.4 697.0,1457.6 C701.2,1456.7 705.3,1461.3 709.5,1460.0 C713.7,1458.8 717.8,1448.8 722.0,1449.9 C726.2,1451.1 730.3,1465.5 734.5,1466.9 C738.7,1468.2 742.8,1457.2 747.0,1458.0 C751.2,1458.9 755.3,1468.4 759.5,1471.9 C763.7,1475.5 767.8,1477.5 772.0,1479.2 C776.2,1480.9 780.3,1484.7 784.5,1481.9 C788.7,1479.1 792.8,1463.7 797.0,1462.4 C801.2,1461.1 805.3,1474.6 809.5,1474.2 C813.7,1473.8 817.8,1463.1 822.0,1460.1 C826.2,1457.2 830.3,1458.3 834.5,1456.5 C838.7,1454.7 842.8,1448.0 847.0,1449.4 C851.2,1450.8 855.3,1464.3 859.5,1464.9 C863.7,1465.6 867.8,1455.2 872.0,1453.4 C876.2,1451.6 880.3,1451.6 884.5,1454.1 C888.7,1456.5 892.8,1463.6 897.0,1468.1 C901.2,1472.6 905.3,1479.2 909.5,1480.9 C913.7,1482.7 917.8,1476.3 922.0,1478.7 C926.2,1481.2 930.3,1490.7 934.5,1495.6 C938.7,1500.4 942.8,1506.5 947.0,1507.8 C951.2,1509.0 955.3,1503.1 959.5,1503.0 C963.7,1502.9 967.8,1507.8 972.0,1507.2 C976.2,1506.7 980.3,1501.1 984.5,1499.5 C988.7,1497.9 992.8,1499.8 997.0,1497.6 C1001.2,1495.4 1005.3,1489.0 1009.5,1486.3 C1013.7,1483.7 1017.8,1482.0 1022.0,1481.8 C1026.2,1481.6 1032.4,1484.8 1034.5,1485.4" fill="none" stroke="#ffffff" stroke-width="1.8"/>
<path d="M64,24.5 L31.5,57.5 L64,90.5" fill="none" stroke="#f2f2f4" stroke-width="3.8" stroke-linecap="round" stroke-linejoin="miter"/>
<polygon points="890.0,29.8 900.0,46.2 919.5,51.5 907.8,63.6 908.8,84.9 890.0,77.8 871.9,85.2 872.9,63.6 860.8,51.1 880.4,46.2" fill="#ddac3b" stroke="#ddac3b" stroke-width="2.4" stroke-linejoin="round"/>
<rect x="989" y="32.5" width="6" height="5" fill="#f2f2f4"/>
<rect x="1001" y="32.5" width="45" height="5" fill="#f2f2f4"/>
<rect x="989" y="55.0" width="6" height="5" fill="#f2f2f4"/>
<rect x="1001" y="55.0" width="45" height="5" fill="#f2f2f4"/>
<rect x="989" y="77.5" width="6" height="5" fill="#f2f2f4"/>
<rect x="1001" y="77.5" width="45" height="5" fill="#f2f2f4"/>
<rect x="525.2" y="72.2" width="42.6" height="40.6" rx="5" fill="none" stroke="#dfb043" stroke-width="2.4"/>
<rect x="585.2" y="72.2" width="107.6" height="40.6" rx="5" fill="none" stroke="#dfb043" stroke-width="2.4"/>
<rect x="1006" y="192" width="48.8" height="145" rx="2.5" fill="none" stroke="#d0d1db" stroke-width="2"/>
<path d="M1020,305 L1041,305 L1030.5,318 Z" fill="#a3a4ac"/>
<rect x="209.7" y="487.2" width="148.2" height="8.5" fill="#5581de"/>
<circle cx="973.5" cy="450" r="4.6" fill="#8b8c96"/>
<circle cx="991.5" cy="450" r="4.6" fill="#8b8c96"/>
<circle cx="1009.5" cy="450" r="4.6" fill="#8b8c96"/>
<text transform="translate(426.07,54.88) scale(1.0847,1)" font-size="49.17" font-weight="500" font-family='"Noto Sans CJK SC","Liberation Sans",sans-serif' fill="#dfb043">玻璃</text>
<text transform="translate(534.84,53.5) scale(0.98,1)" font-size="52.5" font-weight="400" font-family='"Liberation Sans","Noto Sans CJK SC",sans-serif' fill="#dfb043">2301</text>
<text transform="translate(382.99,107.0) scale(0.9973,1)" font-size="34.03" font-weight="400" font-family='"Liberation Sans","Noto Sans CJK SC",sans-serif' fill="#dfb043">FG2301</text>
<text transform="translate(529.25,105.92) scale(1.0887,1)" font-size="31.33" font-weight="500" font-family='"Noto Sans CJK SC","Liberation Sans",sans-serif' fill="#dfb043">主</text>
<text transform="translate(589.89,106.74) scale(1.0395,1)" font-size="31.56" font-weight="500" font-family='"Noto Sans CJK SC","Liberation Sans",sans-serif' fill="#dfb043">郑商所</text>
<text transform="translate(29.58,237.0) scale(0.9944,1)" font-size="105.83" font-weight="400" font-family='"Liberation Sans","Noto Sans CJK SC",sans-serif' fill="#ec5656">1536</text>
<text transform="translate(29.96,366.4) scale(0.951,1)" font-size="45.71" font-weight="400" font-family='"Liberation Sans","Noto Sans CJK SC",sans-serif' fill="#ec5656">+14</text>
<text transform="translate(148.82,366.4) scale(0.9451,1)" font-size="44.44" font-weight="400" font-family='"Liberation Sans","Noto Sans CJK SC",sans-serif' fill="#ec5656">+0.92%</text>
<text transform="translate(463.97,201.06) scale(1.071,1)" font-size="39.36" font-weight="400" font-family='"Noto Sans CJK SC","Liberation Sans",sans-serif' fill="#7d8089">卖价</text>
<text transform="translate(632.7,206.1) scale(1.0249,1)" font-size="52.5" font-weight="400" font-family='"Liberation Sans","Noto Sans CJK SC",sans-serif' fill="#ec5656">1536</text>
<text transform="translate(788.34,206.1) scale(1.0135,1)" font-size="52.5" font-weight="400" font-family='"Liberation Sans","Noto Sans CJK SC",sans-serif' fill="#d9dbe2">464</text>
<text transform="translate(463.97,280.38) scale(1.0483,1)" font-size="40.22" font-weight="400" font-family='"Noto Sans CJK SC","Liberation Sans",sans-serif' fill="#7d8089">买价</text>
<text transform="translate(632.7,284.4) scale(1.0249,1)" font-size="52.5" font-weight="400" font-family='"Liberation Sans","Noto Sans CJK SC",sans-serif' fill="#ec5656">1535</text>
<text transform="translate(789.51,284.4) scale(0.997,1)" font-size="52.5" font-weight="400" font-family='"Liberation Sans","Noto Sans CJK SC",sans-serif' fill="#d9dbe2">897</text>
<text transform="translate(465.67,358.86) scale(1.0486,1)" font-size="39.38" font-weight="400" font-family='"Noto Sans CJK SC","Liberation Sans",sans-serif' fill="#7d8089">持仓</text>
<text transform="translate(572.84,362.8) scale(1.0713,1)" font-size="50.42" font-weight="400" font-family='"Liberation Sans","Noto Sans CJK SC",sans-serif' fill="#d9dbe2">802182</text>
<text transform="translate(787.29,362.8) scale(1.0682,1)" font-size="50.42" font-weight="400" font-family='"Liberation Sans","Noto Sans CJK SC",sans-serif' fill="#d9dbe2">1903</text>
<text transform="translate(1012.61,241.91) scale(1.0,1)" font-size="34.78" font-weight="300" font-family='"Noto Sans CJK SC","Liberation Sans",sans-serif' fill="#cfd0da">盘</text>
<text transform="translate(1011.98,287.9) scale(1.0238,1)" font-size="35.0" font-weight="300" font-family='"Noto Sans CJK SC","Liberation Sans",sans-serif' fill="#cfd0da">口</text>
<text transform="translate(47.76,460.15) scale(1.1011,1)" font-size="41.49" font-weight="400" font-family='"Noto Sans CJK SC","Liberation Sans",sans-serif' fill="#b3b4bb">分时</text>
<text transform="translate(246.39,460.42) scale(1.0805,1)" font-size="42.21" font-weight="400" font-family='"Noto Sans CJK SC","Liberation Sans",sans-serif' fill="#4f82e0">日</text>
<text transform="translate(292.45,459.9) scale(0.9223,1)" font-size="45.43" font-weight="400" font-family='"Liberation Sans","Noto Sans CJK SC",sans-serif' fill="#4f82e0">K</text>
<text transform="translate(438.63,461.5) scale(1.0422,1)" font-size="46.43" font-weight="400" font-family='"Liberation Sans","Noto Sans CJK SC",sans-serif' fill="#b3b4bb">1m</text>
<text transform="translate(628.05,461.5) scale(1.0494,1)" font-size="46.53" font-weight="400" font-family='"Liberation Sans","Noto Sans CJK SC",sans-serif' fill="#b3b4bb">3m</text>
<text transform="translate(806.04,460.27) scale(1.0673,1)" font-size="41.28" font-weight="400" font-family='"Noto Sans CJK SC","Liberation Sans",sans-serif' fill="#b3b4bb">周期</text>
<text transform="translate(11.36,534.0) scale(1.0346,1)" font-size="31.94" font-weight="400" font-family='"Liberation Sans","Noto Sans CJK SC",sans-serif' fill="#f4f4f6">MA5: 1521</text>
<text transform="translate(188.8,534.0) scale(1.0583,1)" font-size="31.94" font-weight="400" font-family='"Liberation Sans","Noto Sans CJK SC",sans-serif' fill="#eeee5a">MA10: 1505</text>
<text transform="translate(386.32,534.0) scale(1.0474,1)" font-size="31.94" font-weight="400" font-family='"Liberation Sans","Noto Sans CJK SC",sans-serif' fill="#d541e0">MA20: 1489</text>
<text transform="translate(583.32,534.0) scale(1.0504,1)" font-size="31.94" font-weight="400" font-family='"Liberation Sans","Noto Sans CJK SC",sans-serif' fill="#7fea53">MA40: 1502</text>
<text transform="translate(779.82,534.0) scale(1.0504,1)" font-size="31.94" font-weight="400" font-family='"Liberation Sans","Noto Sans CJK SC",sans-serif' fill="#6e3ee6">MA60: 1519</text>
<text transform="translate(13.44,580.0) scale(0.9614,1)" font-size="33.33" font-weight="400" font-family='"Liberation Sans","Noto Sans CJK SC",sans-serif' fill="#85878f">1921</text>
<text transform="translate(13.25,784.4) scale(1.0415,1)" font-size="33.06" font-weight="400" font-family='"Liberation Sans","Noto Sans CJK SC",sans-serif' fill="#85878f">1785</text>
<text transform="translate(13.38,986.7) scale(1.0008,1)" font-size="34.03" font-weight="400" font-family='"Liberation Sans","Noto Sans CJK SC",sans-serif' fill="#85878f">1650</text>
<text transform="translate(13.35,1190.6) scale(0.9771,1)" font-size="35.14" font-weight="400" font-family='"Liberation Sans","Noto Sans CJK SC",sans-serif' fill="#85878f">1514</text>
<text transform="translate(13.98,1349.4) scale(1.0019,1)" font-size="33.89" font-weight="400" font-family='"Liberation Sans","Noto Sans CJK SC",sans-serif' fill="#85878f">1378</text>
<text transform="translate(13.98,1450.0) scale(1.0189,1)" font-size="33.33" font-weight="400" font-family='"Liberation Sans","Noto Sans CJK SC",sans-serif' fill="#85878f">1099859</text>
<text transform="translate(63.79,595.4) scale(0.9535,1)" font-size="31.81" font-weight="400" font-family='"Liberation Sans","Noto Sans CJK SC",sans-serif' fill="#e23a2e">- -&gt;1881</text>
<text transform="translate(536.06,991.5) scale(1.0535,1)" font-size="32.5" font-weight="400" font-family='"Liberation Sans","Noto Sans CJK SC",sans-serif' fill="#e23a2e">1617</text>
<text transform="translate(955.67,1094.0) scale(1.0673,1)" font-size="31.94" font-weight="400" font-family='"Liberation Sans","Noto Sans CJK SC",sans-serif' fill="#e23a2e">1548</text>
<text transform="translate(392.14,1276.8) scale(1.0726,1)" font-size="32.14" font-weight="400" font-family='"Liberation Sans","Noto Sans CJK SC",sans-serif' fill="#5fd3d8">1455</text>
<text transform="translate(697.85,1335.4) scale(0.989,1)" font-size="32.22" font-weight="400" font-family='"Liberation Sans","Noto Sans CJK SC",sans-serif' fill="#5fd3d8">1402&lt;- -</text>
<text transform="translate(42.2,1398.94) scale(0.942,1)" font-size="32.97" font-weight="400" font-family='"Liberation Sans","Noto Sans CJK SC",sans-serif' fill="#d6d8e0" stroke="#d6d8e0" stroke-width="0.79">VOL</text>
<text transform="translate(157.0,1398.04) scale(0.9602,1)" font-size="34.78" font-weight="400" font-family='"Liberation Sans","Noto Sans CJK SC",sans-serif' fill="#b4b6be">(5,10)</text>
<text transform="translate(260.0,1399.0) scale(0.9952,1)" font-size="31.94" font-weight="400" font-family='"Liberation Sans","Noto Sans CJK SC",sans-serif' fill="#f2f2f4">VOLUME: 609974</text>
<text transform="translate(533.35,1399.0) scale(1.0382,1)" font-size="31.94" font-weight="400" font-family='"Liberation Sans","Noto Sans CJK SC",sans-serif' fill="#eeee5a">MAVOL1: 819807</text>
<text transform="translate(809.35,1399.0) scale(1.0388,1)" font-size="31.94" font-weight="400" font-family='"Liberation Sans","Noto Sans CJK SC",sans-serif' fill="#d541e0">MAVOL2: 776975</text></svg>
</body></html>
